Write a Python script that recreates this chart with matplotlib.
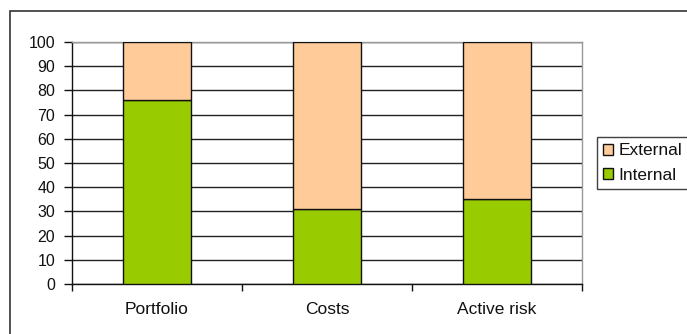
import matplotlib
matplotlib.use("Agg")
import matplotlib.pyplot as plt
from matplotlib.patches import Rectangle

categories = ["Portfolio", "Costs", "Active risk"]
internal = [76, 31, 35]
external = [24, 69, 65]
yticks = [0, 10, 20, 30, 40, 50, 60, 70, 80, 90, 100]

plt.rcParams['font.family'] = ['Liberation Sans', 'DejaVu Sans']

W, H = 687, 334
fig = plt.figure(figsize=(W / 100, H / 100), dpi=100)
fig.patch.set_facecolor('white')

# outer chart border
fig.patches.append(Rectangle((10 / W, -0.1), 1.2, (H - 11) / H + 0.1,
                             transform=fig.transFigure, fill=False,
                             edgecolor='#333333', linewidth=1.2, zorder=0))

ax = fig.add_axes([72 / W, (H - 284) / H, 510 / W, 242 / H])
x = list(range(len(categories)))
ax.bar(x, internal, width=0.4, color='#99cc00', edgecolor='#111111',
       linewidth=1.0, label='Internal', zorder=3)
ax.bar(x, external, width=0.4, bottom=internal, color='#ffcc99',
       edgecolor='#111111', linewidth=1.0, label='External', zorder=3)

ax.set_xlim(-0.5, 2.5)
ax.set_ylim(0, 100)
ax.set_yticks(yticks)
ax.yaxis.grid(True, color='#222222', linewidth=1.0, zorder=0)
ax.set_axisbelow(True)

ax.set_xticks(x)
ax.set_xticklabels(categories, fontsize=12.5, color='#111111')
ax.tick_params(axis='x', which='major', length=0, pad=13)
ax.set_xticks([-0.5, 0.5, 1.5, 2.5], minor=True)
ax.tick_params(axis='x', which='minor', length=5, width=1, color='#111111', direction='out')
ax.tick_params(axis='y', labelsize=11.5, labelcolor='#111111', length=6, width=1,
               color='#111111', direction='out', pad=6)

for s in ['top', 'right']:
    ax.spines[s].set_color('#999999')
    ax.spines[s].set_linewidth(1.0)
for s in ['left', 'bottom']:
    ax.spines[s].set_color('#111111')
    ax.spines[s].set_linewidth(1.0)

handles, labels = ax.get_legend_handles_labels()
leg = fig.legend(handles[::-1], labels[::-1], loc='center left',
                 bbox_to_anchor=(597 / W, 1 - 163 / H), fontsize=12.5,
                 frameon=True, fancybox=False, borderpad=0.35,
                 handlelength=0.6, handleheight=0.6, handletextpad=0.3,
                 labelspacing=0.55, borderaxespad=0)
leg.get_frame().set_edgecolor('#111111')
leg.get_frame().set_linewidth(1.0)
for t in leg.get_texts():
    t.set_color('#111111')

fig.savefig('out.png', dpi=100)
